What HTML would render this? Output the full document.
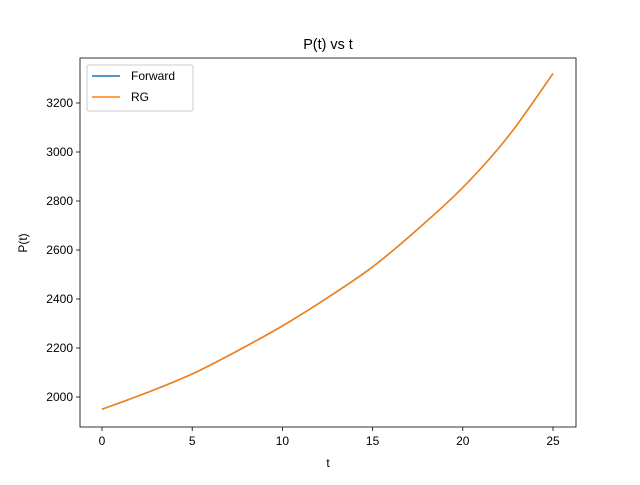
<!DOCTYPE html>
<html><head><meta charset="utf-8"><style>
body{margin:0;background:#fff}
svg{font-family:"Liberation Sans","DejaVu Sans",sans-serif}
</style></head><body>
<svg id="chart" width="640" height="480" viewBox="0 0 640 480">
<rect width="640" height="480" fill="#fff"/>
<g id="plot"></g>
<text x="328" y="49" font-size="14.4" text-anchor="middle">P(t) vs t</text>
<text x="328" y="467" font-size="12" text-anchor="middle">t</text>
<text x="27" y="243" font-size="12" text-anchor="middle" transform="rotate(-90 27 243)">P(t)</text>
<g>
<rect x="87" y="65" width="106" height="46" fill="#fff" stroke="#ccc" rx="2"/>
<line x1="92" y1="76" x2="120" y2="76" stroke="#1f77b4" stroke-width="1.5"/>
<text x="131" y="80" font-size="12">Forward</text>
<line x1="92" y1="97" x2="120" y2="97" stroke="#ff7f0e" stroke-width="1.5"/>
<text x="131" y="101" font-size="12">RG</text>
</g>
</svg>
<script>
const tValues=[0,2.5,5,7.5,10,12.5,15,17.5,20,22.5,25];
const forwardValues=[1950,2018,2094,2188,2290,2405,2531,2685,2855,3062,3320];
const rgValues=[1950,2018,2094,2188,2290,2405,2531,2685,2855,3062,3320];
const xTicks=[0,5,10,15,20,25];
const yTicks=[2000,2200,2400,2600,2800,3000,3200];
const L=80,R=576,T=58,B=427;
const xs=t=>102+t*(553-102)/25;
const ys=v=>397-(v-2000)*(397-103)/1200;
const ns="http://www.w3.org/2000/svg";
const g=document.getElementById('plot');
function mk(tag,a){const e=document.createElementNS(ns,tag);for(const k in a)e.setAttribute(k,a[k]);g.appendChild(e);return e;}
xTicks.forEach(t=>{
 const l=mk('line',{x1:xs(t),x2:xs(t),y1:B,y2:B+4,stroke:'#000','stroke-width':0.8});
 
 
 const tx=mk('text',{x:xs(t),y:B+18,'font-size':12,'text-anchor':'middle'});tx.textContent=t;
 
 
});
yTicks.forEach(v=>{
 const l=mk('line',{x1:L-4,x2:L,y1:ys(v),y2:ys(v),stroke:'#000','stroke-width':0.8});
 
 
 const tx=mk('text',{x:L-7,y:ys(v)+4,'font-size':12,'text-anchor':'end'});tx.textContent=v;
 
 
});
function line(vals,color,name){
 const P=tValues.map((t,i)=>[xs(t),ys(vals[i])]);
 let d='M'+P[0][0]+','+P[0][1];
 for(let i=0;i<P.length-1;i++){
  const p0=P[i-1]||P[i],p1=P[i],p2=P[i+1],p3=P[i+2]||P[i+1];
  const c1=[p1[0]+(p2[0]-p0[0])/6,p1[1]+(p2[1]-p0[1])/6];
  const c2=[p2[0]-(p3[0]-p1[0])/6,p2[1]-(p3[1]-p1[1])/6];
  d+=' C'+c1+' '+c2+' '+p2;
 }
 const p=mk('path',{d:d,fill:'none',stroke:color,'stroke-width':1.5});
 
 
}
line(forwardValues,'#1f77b4','forward-line');
line(rgValues,'#ff7f0e','rg-line');
const fr=mk('rect',{x:L,y:T,width:R-L,height:B-T,fill:'none',stroke:'#000','stroke-width':0.8});


</script>
</body></html>
